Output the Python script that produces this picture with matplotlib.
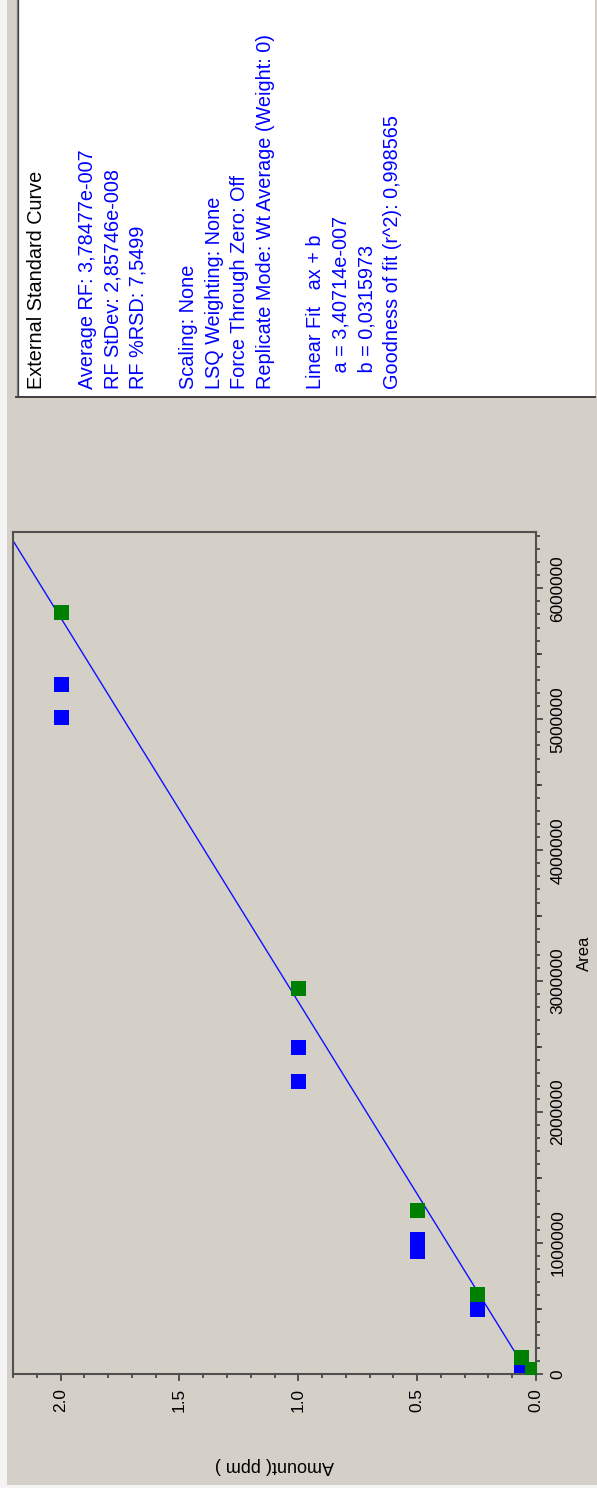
import matplotlib
matplotlib.use('Agg')
import matplotlib.pyplot as plt
import numpy as np
from matplotlib.patches import Rectangle
from matplotlib.lines import Line2D
from matplotlib.ticker import MultipleLocator, FixedLocator, FormatStrFormatter

# calibration standards, amount in ppm vs peak area
std_amount = [2.0, 1.0, 0.5, 0.25, 0.0625, 0.015]
std_area = [5820000, 2950000, 1250000, 610000, 130000, 40000]

rep_amount = [2.0, 2.0, 1.0, 1.0, 0.5, 0.5, 0.25, 0.0625]
rep_area = [5270000, 5020000, 2500000, 2240000, 1030000, 940000, 500000, 70000]

# linear fit  amount = a * area + b
fit_a = 3.40714e-007
fit_b = 0.0315973

summary_title = "External Standard Curve"
summary_lines = [
    "",
    "Average RF: 3,78477e-007",
    "RF StDev: 2,85746e-008",
    "RF %RSD: 7,5499",
    "",
    "Scaling: None",
    "LSQ Weighting: None",
    "Force Through Zero: Off",
    "Replicate Mode: Wt Average (Weight: 0)",
    "",
    "Linear Fit   ax + b",
    "   a = 3,40714e-007",
    "   b = 0,0315973",
    "Goodness of fit (r^2): 0,998565",
]

W, H = 597, 1488
PANEL = '#d4d0c8'
FONT = ['Liberation Sans', 'DejaVu Sans']


def fx(px):
    return px / W


def fy(py):
    return 1 - py / H


def draw_summary_box(fig):
    """White info box; the whole window is turned on its side, so text runs upward."""
    fig.add_artist(Rectangle((fx(18), fy(396)), fx(595) - fx(18), fy(0) - fy(396),
                             transform=fig.transFigure, facecolor='white',
                             edgecolor='none', zorder=1))
    fig.add_artist(Line2D([fx(16.5), fx(16.5)], [fy(0), fy(397)], transform=fig.transFigure,
                          color='#808080', linewidth=0.9, zorder=2))
    fig.add_artist(Line2D([fx(17.5), fx(17.5)], [fy(0), fy(396)], transform=fig.transFigure,
                          color='#404040', linewidth=0.9, zorder=2))
    fig.add_artist(Line2D([fx(16), fx(595)], [fy(396.5), fy(396.5)], transform=fig.transFigure,
                          color='#404040', linewidth=1.4, zorder=2))

    pitch = 25.4
    x0 = 42
    y_start = 389
    fig.text(fx(x0), fy(y_start), summary_title, rotation=90, rotation_mode='anchor',
             ha='left', va='baseline', fontsize=14.3, color='black', family=FONT, zorder=3)
    for i, line in enumerate(summary_lines, start=1):
        if not line:
            continue
        fig.text(fx(x0 + i * pitch), fy(y_start), line, rotation=90, rotation_mode='anchor',
                 ha='left', va='baseline', fontsize=14.3, color='#0000ff', family=FONT, zorder=3)


def main():
    plt.rcParams['font.family'] = FONT
    fig = plt.figure(figsize=(W / 100, H / 100), dpi=100, facecolor=PANEL)

    # light screen margin on the left and bottom
    fig.add_artist(Rectangle((0, 0), fx(7), 1, transform=fig.transFigure,
                             facecolor='#f4f4f4', edgecolor='none', zorder=0))
    fig.add_artist(Rectangle((0, 0), 1, fy(1485), transform=fig.transFigure,
                             facecolor='#f4f4f4', edgecolor='none', zorder=0))

    draw_summary_box(fig)

    left, right, top, bottom = 13, 536, 532, 1374
    ax = fig.add_axes([fx(left), fy(bottom), fx(right) - fx(left), fy(top) - fy(bottom)])
    ax.set_facecolor(PANEL)

    area_max = 6.43e6
    ax.set_xlim(2.2, 0.0)
    ax.set_ylim(0, area_max)

    area_fit = np.array([0.0, area_max])
    ax.plot(fit_a * area_fit + fit_b, area_fit, color='#1010ff', linewidth=1.0, zorder=2)

    ax.plot(rep_amount, rep_area, linestyle='none', marker='s', markersize=10.8,
            markerfacecolor='#0000ff', markeredgewidth=0, zorder=3)
    ax.plot(std_amount, std_area, linestyle='none', marker='s', markersize=10.8,
            markerfacecolor='#008000', markeredgewidth=0, zorder=4)

    for sp in ax.spines.values():
        sp.set_color('#505050')
        sp.set_linewidth(1.5)

    ax.xaxis.set_major_locator(MultipleLocator(0.5))
    ax.xaxis.set_minor_locator(MultipleLocator(0.1))
    ax.xaxis.set_major_formatter(FormatStrFormatter('%.1f'))
    ax.yaxis.set_major_locator(MultipleLocator(1000000))
    ax.yaxis.set_minor_locator(MultipleLocator(100000))
    ax.yaxis.set_major_formatter(FormatStrFormatter('%d'))
    ax.yaxis.tick_right()

    ax.tick_params(which='major', direction='out', length=5.2, width=1.1,
                   color='#303030', labelsize=12.4, pad=5, labelcolor='black')
    ax.tick_params(which='minor', direction='out', length=3.0, width=1.1, color='#303030')
    ax.tick_params(axis='x', labelrotation=90)
    ax.tick_params(axis='y', labelrotation=90)
    for lab in ax.get_yticklabels():
        lab.set_verticalalignment('center')

    # half-million ticks on the area axis
    mid = ax.secondary_yaxis('right')
    mid.yaxis.set_major_locator(FixedLocator([500000, 1500000, 2500000, 3500000,
                                              4500000, 5500000]))
    mid.tick_params(direction='out', length=4.2, width=1.1, color='#303030', labelright=False)
    mid.spines['right'].set_visible(False)

    ax.set_xlabel('Amount( ppm )', rotation=180, fontsize=13)
    ax.xaxis.set_label_coords(0.5, -0.099)
    ax.yaxis.set_label_position('right')
    ax.set_ylabel('Area', rotation=90, fontsize=12)
    ax.yaxis.set_label_coords(1.078, 0.5)

    fig.savefig('out.png', dpi=100, facecolor=PANEL)


if __name__ == "__main__":
    main()
